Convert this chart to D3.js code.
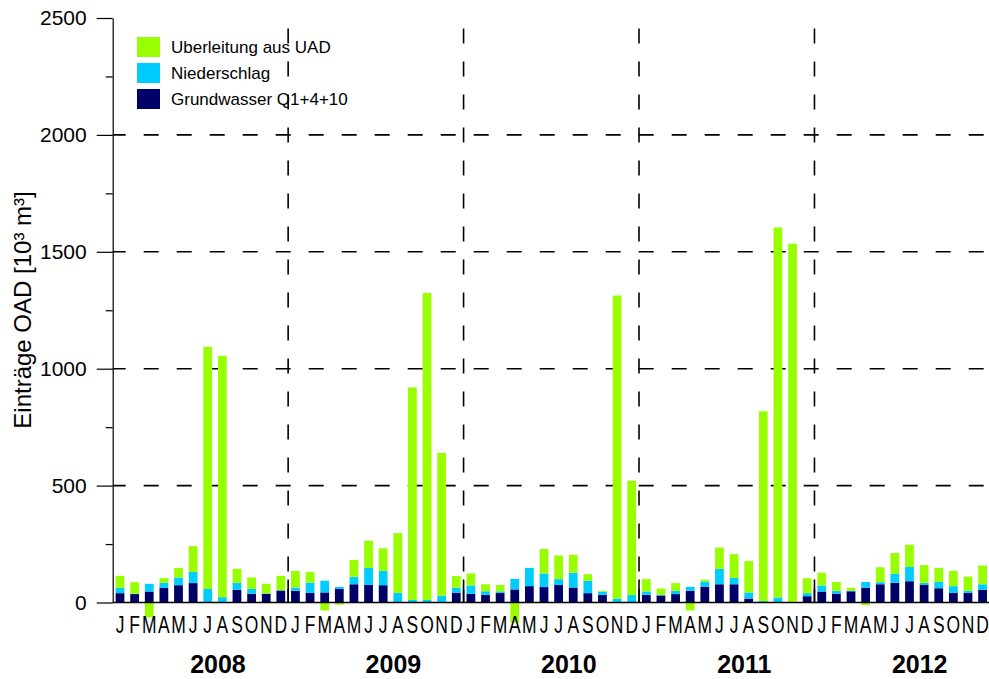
<!DOCTYPE html>
<html>
<head>
<meta charset="utf-8">
<script src="https://cdn.jsdelivr.net/npm/d3@7"></script>
<style>
  body { margin: 0; background: #fff; }
  #vis { width: 989px; height: 679px; }
  text { font-family: "Liberation Sans", Arial, sans-serif; fill: #000; }
</style>
</head>
<body>
<div id="vis"></div>
<script>
var years = ['2008', '2009', '2010', '2011', '2012'];
var months = ['J', 'F', 'M', 'A', 'M', 'J', 'J', 'A', 'S', 'O', 'N', 'D'];

// Grundwasser Q1+4+10, 10^3 m^3 per month
var grundwasser = [
  40, 36, 47, 63, 74, 83, 0, 0, 54, 38, 37, 51,
  50, 41, 43, 58, 78, 75, 74, 0, 0, 0, 0, 42,
  37, 33, 41, 56, 70, 66, 75, 64, 40, 33, 0, 0,
  33, 30, 36, 50, 68, 78, 78, 17, 0, 0, 0, 27,
  47, 38, 48, 63, 78, 84, 91, 75, 61, 41, 41, 54
];
// Niederschlag
var niederschlag = [
  23, 2, 33, 21, 33, 48, 58, 23, 30, 20, 2, 2,
  14, 44, 50, 9, 32, 73, 61, 41, 11, 11, 29, 21,
  36, 15, 7, 45, 78, 58, 25, 63, 53, 13, 17, 32,
  14, 3, 14, 17, 22, 66, 27, 26, 6, 22, 0, 13,
  26, 12, 3, 25, 9, 39, 61, 9, 27, 29, 9, 24
];
// Ueberleitung aus UAD
var ueberleitung = [
  51, 49, -63, 20, 41, 110, 1035, 1032, 60, 49, 41, 61,
  71, 46, -34, -9, 72, 116, 97, 256, 909, 1313, 611, 50,
  51, 30, 27, -86, -3, 105, 101, 77, 28, 4, 1296, 489,
  53, 27, 33, -34, 8, 91, 102, 134, 812, 1582, 1535, 64,
  54, 38, 12, -11, 64, 89, 95, 76, 60, 65, 61, 80
];

var yTicks = [0, 500, 1000, 1500, 2000, 2500];
var yMinorTicks = [250, 750, 1250, 1750, 2250];
var gridValues = [500, 1000, 1500, 2000];

var series = [
  {key: 'grund', label: 'Grundwasser Q1+4+10', colour: '#000066'},
  {key: 'nieder', label: 'Niederschlag', colour: '#00ccff'},
  {key: 'ueber', label: 'Uberleitung aus UAD', colour: '#99ff00'}
];

var width = 989, height = 679;
var plotLeft = 112.7, plotRight = 989.9, plotTop = 18, plotBottom = 602.5;

var svg = d3.select('#vis')
.append('svg')
.attr('width', width)
.attr('height', height);

var table = grundwasser.map(function(d, i) {
  return {i: i, grund: d, nieder: niederschlag[i], ueber: ueberleitung[i]};
});

var x_scale = d3.scaleBand()
.domain(d3.range(table.length))
.range([plotLeft, plotRight])
.paddingInner(0.4)
.paddingOuter(0.2);

var y_scale = d3.scaleLinear()
.domain([0, 2500])
.range([plotBottom, plotTop]);

var step = x_scale.step();

// dashed grid
svg.append('g')
.selectAll('line')
.data(gridValues)
.enter()
.append('line')
.attr('x1', plotLeft)
.attr('x2', plotRight)
.attr('y1', function(d) { return y_scale(d); })
.attr('y2', function(d) { return y_scale(d); })
.attr('stroke', '#000')
.attr('stroke-width', 1.6)
.attr('stroke-dasharray', '15,18')
.attr('stroke-dashoffset', 2);

var boundaries = d3.range(1, years.length).map(function(d) {
  return x_scale(d * 12) - step * 0.2;
});

svg.append('g')
.selectAll('line')
.data(boundaries)
.enter()
.append('line')
.attr('x1', function(d) { return d; })
.attr('x2', function(d) { return d; })
.attr('y1', plotBottom)
.attr('y2', plotTop)
.attr('stroke', '#000')
.attr('stroke-width', 1.6)
.attr('stroke-dasharray', '15,18')
.attr('stroke-dashoffset', 2);

svg.append('g')
.selectAll('line')
.data(boundaries)
.enter()
.append('line')
.attr('x1', function(d) { return d; })
.attr('x2', function(d) { return d; })
.attr('y1', plotBottom)
.attr('y2', plotBottom - 23)
.attr('stroke', '#000')
.attr('stroke-width', 1.6);

// stacked bars
var stack = d3.stack()
.keys(series.map(function(s) { return s.key; }))
.offset(d3.stackOffsetDiverging);

var layers = stack(table);

svg.append('g')
.selectAll('g')
.data(layers)
.enter()
.append('g')
.attr('fill', function(d, i) { return series[i].colour; })
.selectAll('rect')
.data(function(d) { return d; })
.enter()
.append('rect')
.attr('x', function(d) { return x_scale(d.data.i); })
.attr('width', x_scale.bandwidth())
.attr('y', function(d) { return y_scale(Math.max(d[0], d[1])); })
.attr('height', function(d) { return Math.abs(y_scale(d[0]) - y_scale(d[1])); });

// axes
var y_axis = d3.axisLeft(y_scale)
.tickValues(yTicks)
.tickSize(16)
.tickSizeOuter(0)
.tickPadding(10)
.tickFormat(d3.format('d'));

var y_g = svg.append('g')
.attr('transform', 'translate(' + plotLeft + ',0)')
.call(y_axis);

y_g.selectAll('text')
.style('font-size', '21px')
.style('font-family', '"Liberation Sans", Arial, sans-serif')
.attr('fill', '#000');

y_g.selectAll('line, path').attr('stroke', '#000').attr('stroke-width', 1.2);

var y_minor = d3.axisLeft(y_scale)
.tickValues(yMinorTicks)
.tickSize(7)
.tickSizeOuter(0)
.tickFormat('');

svg.append('g')
.attr('transform', 'translate(' + plotLeft + ',0)')
.call(y_minor)
.call(function(g) { g.select('.domain').remove(); })
.selectAll('line').attr('stroke', '#000').attr('stroke-width', 1.2);

var x_axis = d3.axisBottom(x_scale)
.tickSize(0)
.tickPadding(14)
.tickFormat(function(d) { return months[d % 12]; });

var x_g = svg.append('g')
.attr('transform', 'translate(0,' + plotBottom + ')')
.call(x_axis);

x_g.select('.domain')
.attr('d', 'M' + plotLeft + ',0H' + plotRight)
.attr('stroke', '#000')
.attr('stroke-width', 1.4);

x_g.selectAll('text')
.style('font-size', '23px')
.style('font-family', '"Liberation Sans", Arial, sans-serif')
.attr('fill', '#000')
.attr('transform', 'scale(0.76,1)');

svg.append('g')
.selectAll('text')
.data(years)
.enter()
.append('text')
.attr('x', function(d, i) { return plotLeft + (i * 12 + 7.2) * step; })
.attr('y', 673)
.attr('text-anchor', 'middle')
.style('font-size', '25px')
.style('font-weight', 'bold')
.text(function(d) { return d; });

svg.append('text')
.attr('transform', 'translate(31,310) rotate(-90)')
.attr('text-anchor', 'middle')
.style('font-size', '24px')
.text('Einträge OAD [10³ m³]');

// legend
var legend = svg.append('g')
.selectAll('g')
.data(series.slice().reverse())
.enter()
.append('g')
.attr('transform', function(d, i) { return 'translate(137,' + (37 + i * 26) + ')'; });

legend.append('rect')
.attr('width', 23)
.attr('height', 20)
.attr('fill', function(d) { return d.colour; });

legend.append('text')
.attr('x', 34)
.attr('y', 16)
.style('font-size', '17px')
.text(function(d) { return d.label; });
</script>
</body>
</html>
